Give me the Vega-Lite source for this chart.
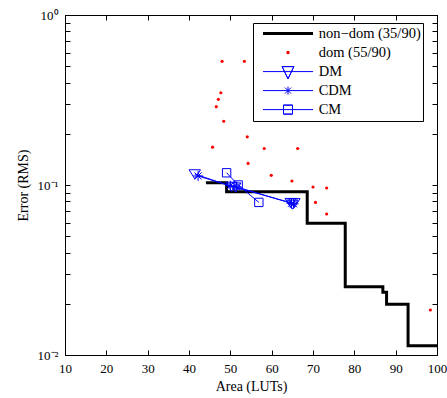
{
  "$schema": "https://vega.github.io/schema/vega-lite/v6.json",
  "autosize": "none",
  "width": 372,
  "height": 340,
  "padding": {"left": 65, "top": 15, "right": 10, "bottom": 43},
  "background": "white",
  "config": {
    "view": {"stroke": "black", "strokeWidth": 1},
    "axis": {
      "labelFont": "Liberation Serif", "labelFontSize": 13, "labelColor": "black",
      "titleFont": "Liberation Serif", "titleFontSize": 14, "titleFontWeight": "normal", "titleColor": "black",
      "tickColor": "black", "domainColor": "black", "grid": false, "tickSize": -5, "labelFlush": false, "labelOverlap": false
    }
  },
  "datasets": {
    "nondom": [
      {"x": 44.1, "y": 0.103, "series": "non−dom (35/90)"},
      {"x": 49.1, "y": 0.0914, "series": "non−dom (35/90)"},
      {"x": 68.6, "y": 0.0595, "series": "non−dom (35/90)"},
      {"x": 77.8, "y": 0.0252, "series": "non−dom (35/90)"},
      {"x": 86.9, "y": 0.0234, "series": "non−dom (35/90)"},
      {"x": 87.8, "y": 0.0199, "series": "non−dom (35/90)"},
      {"x": 93.0, "y": 0.01135, "series": "non−dom (35/90)"},
      {"x": 100, "y": 0.01135, "series": "non−dom (35/90)"}
    ],
    "dom": [
      {"x": 48.0, "y": 0.534, "series": "dom (55/90)"},
      {"x": 53.4, "y": 0.534, "series": "dom (55/90)"},
      {"x": 47.7, "y": 0.349, "series": "dom (55/90)"},
      {"x": 47.1, "y": 0.319, "series": "dom (55/90)"},
      {"x": 46.6, "y": 0.289, "series": "dom (55/90)"},
      {"x": 48.4, "y": 0.237, "series": "dom (55/90)"},
      {"x": 54.1, "y": 0.192, "series": "dom (55/90)"},
      {"x": 45.7, "y": 0.167, "series": "dom (55/90)"},
      {"x": 58.2, "y": 0.164, "series": "dom (55/90)"},
      {"x": 66.3, "y": 0.164, "series": "dom (55/90)"},
      {"x": 54.3, "y": 0.134, "series": "dom (55/90)"},
      {"x": 59.9, "y": 0.114, "series": "dom (55/90)"},
      {"x": 64.9, "y": 0.1056, "series": "dom (55/90)"},
      {"x": 70.0, "y": 0.0973, "series": "dom (55/90)"},
      {"x": 73.3, "y": 0.096, "series": "dom (55/90)"},
      {"x": 70.6, "y": 0.079, "series": "dom (55/90)"},
      {"x": 73.3, "y": 0.0675, "series": "dom (55/90)"},
      {"x": 98.4, "y": 0.0184, "series": "dom (55/90)"}
    ],
    "blue": [
      {"x": 41.4, "y": 0.116, "series": "DM"},
      {"x": 50.3, "y": 0.098, "series": "DM"},
      {"x": 51.2, "y": 0.097, "series": "DM"},
      {"x": 64.6, "y": 0.0787, "series": "DM"},
      {"x": 65.0, "y": 0.077, "series": "DM"},
      {"x": 65.5, "y": 0.0785, "series": "DM"},
      {"x": 42.2, "y": 0.113, "series": "CDM"},
      {"x": 50.0, "y": 0.099, "series": "CDM"},
      {"x": 51.5, "y": 0.0975, "series": "CDM"},
      {"x": 64.8, "y": 0.078, "series": "CDM"},
      {"x": 65.3, "y": 0.0775, "series": "CDM"},
      {"x": 49.1, "y": 0.118, "series": "CM"},
      {"x": 51.9, "y": 0.1, "series": "CM"},
      {"x": 56.9, "y": 0.079, "series": "CM"}
    ]
  },
  "encoding": {
    "x": {"field": "x", "type": "quantitative", "scale": {"domain": [10, 100], "nice": false, "zero": false}},
    "y": {"field": "y", "type": "quantitative", "scale": {"type": "log", "domain": [0.01, 1], "nice": false}},
    "color": {
      "field": "series", "type": "nominal",
      "scale": {"domain": ["non−dom (35/90)", "dom (55/90)", "DM", "CDM", "CM"], "range": ["black", "red", "blue", "blue", "blue"]},
      "legend": {
        "title": null, "orient": "none", "legendX": 188, "legendY": 8, "padding": 1.5,
        "strokeColor": "black", "fillColor": "white",
        "symbolSize": 2500, "clipHeight": 18.2, "rowPadding": 0,
        "labelFont": "Liberation Serif", "labelFontSize": 14.5, "labelColor": "black", "labelLimit": 300,
        "labelExpr": "datum.label + '\u00a0'",
        "encode": {
          "symbols": {
            "update": {
              "shape": {"signal": "datum.value == 'dom (55/90)' ? 'circle' : datum.value == 'DM' ? 'M-1,0L1,0M-0.234,-0.2L0.234,-0.2L-0.234,-0.2M0.234,-0.2L0,0.29L0.234,-0.2M0,0.29L-0.234,-0.2L0,0.29' : datum.value == 'CDM' ? 'M-1,0L1,0M0,-0.16L0,0.16M-0.12,-0.12L0.12,0.12M-0.12,0.12L0.12,-0.12' : datum.value == 'CM' ? 'M-1,0L1,0M-0.18,-0.18L0.18,-0.18L-0.18,-0.18M0.18,-0.18L0.18,0.18L0.18,-0.18M0.18,0.18L-0.18,0.18L0.18,0.18M-0.18,0.18L-0.18,-0.18L-0.18,0.18' : 'M-1,0L1,0'"},
              "size": {"signal": "datum.value == 'dom (55/90)' ? 12 : 2500"},
              "strokeWidth": {"signal": "datum.value == 'dom (55/90)' ? 0 : (datum.value == 'DM' || datum.value == 'CDM' || datum.value == 'CM') ? 1 : 3"},
              "x": {"value": 33.5},
              "opacity": {"value": 1}
            }
          },
          "labels": {
            "update": {
              "x": {"value": 64.2}
            }
          }
        }
      }
    }
  },
  "layer": [
    {
      "data": {"name": "nondom"},
      "mark": {"type": "line", "interpolate": "step-after", "strokeWidth": 3},
      "encoding": {
        "x": {"field": "x", "type": "quantitative", "title": "Area (LUTs)",
          "axis": {"orient": "bottom", "values": [10, 20, 30, 40, 50, 60, 70, 80, 90, 100], "labelPadding": 12, "titlePadding": 4}},
        "y": {"field": "y", "type": "quantitative", "title": "Error (RMS)",
          "axis": {"orient": "left", "values": [0.01, 0.02, 0.03, 0.04, 0.05, 0.06, 0.07, 0.08, 0.09, 0.1, 0.2, 0.3, 0.4, 0.5, 0.6, 0.7, 0.8, 0.9, 1],
            "labelExpr": "datum.value == 1 ? '10⁰' : datum.value == 0.1 ? '10⁻¹' : datum.value == 0.01 ? '10⁻²' : ''", "labelPadding": 12, "titlePadding": 7}}
      }
    },
    {
      "data": {"name": "dom"},
      "mark": {"type": "point", "filled": true, "shape": "circle", "size": 10, "opacity": 1},
      "encoding": {
        "x": {"field": "x", "type": "quantitative",
          "axis": {"orient": "top", "values": [10, 20, 30, 40, 50, 60, 70, 80, 90, 100], "labels": false, "title": null}},
        "y": {"field": "y", "type": "quantitative",
          "axis": {"orient": "right", "values": [0.01, 0.02, 0.03, 0.04, 0.05, 0.06, 0.07, 0.08, 0.09, 0.1, 0.2, 0.3, 0.4, 0.5, 0.6, 0.7, 0.8, 0.9, 1], "labels": false, "title": null}}
      }
    },
    {
      "data": {"name": "blue"},
      "mark": {"type": "line", "strokeWidth": 1},
      "encoding": {
        "x": {"field": "x", "type": "quantitative", "axis": null},
        "y": {"field": "y", "type": "quantitative", "axis": null}
      }
    },
    {
      "data": {"name": "blue"},
      "mark": {"type": "point", "filled": false, "strokeWidth": 1, "opacity": 1},
      "encoding": {
        "x": {"field": "x", "type": "quantitative", "axis": null},
        "y": {"field": "y", "type": "quantitative", "axis": null},
        "shape": {"field": "series", "type": "nominal", "legend": null,
          "scale": {"domain": ["DM", "CDM", "CM"], "range": ["M-1,-0.75L1,-0.75L0,0.85Z", "M-1,0L1,0M0,-1L0,1M-0.7,-0.7L0.7,0.7M-0.7,0.7L0.7,-0.7", "square"]}},
        "size": {"field": "series", "type": "nominal", "legend": null,
          "scale": {"domain": ["DM", "CDM", "CM"], "range": [130, 70, 64]}}
      }
    }
  ],
  "resolve": {"axis": {"x": "independent", "y": "independent"}}
}
